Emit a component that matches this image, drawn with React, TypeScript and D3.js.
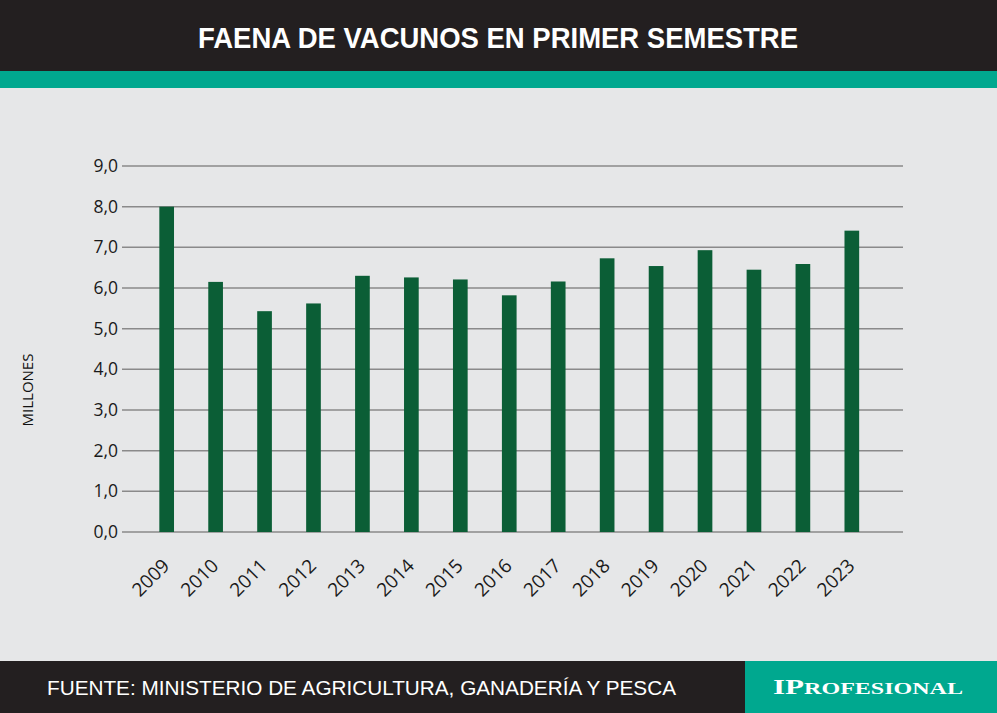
import React from "react";
import * as d3 from "d3";

const years = ["2009", "2010", "2011", "2012", "2013", "2014", "2015", "2016", "2017", "2018", "2019", "2020", "2021", "2022", "2023"];
const faena = [8.0, 6.15, 5.43, 5.62, 6.3, 6.26, 6.21, 5.82, 6.16, 6.73, 6.54, 6.93, 6.45, 6.59, 7.41];
const yTicks = [0, 1, 2, 3, 4, 5, 6, 7, 8, 9];

const W = 997;
const H = 713;

const App = () => {
  const x = d3
    .scaleBand<string>()
    .domain(years)
    .range([142.2, 876.3])
    .paddingInner(0.7)
    .paddingOuter(0.35);
  const y = d3.scaleLinear().domain([0, 9]).range([532, 166]);
  const fmt = (v: number) => v.toFixed(1).replace(".", ",");
  const font = "'Open Sans', 'Liberation Sans', Arial, sans-serif";

  return (
    <svg width={W} height={H} style={{ position: "absolute", left: 0, top: 0 }}>
      <rect x={0} y={0} width={W} height={H} fill="#e6e7e8" />
      {/* header */}
      <rect x={0} y={0} width={W} height={71} fill="#231f20" />
      <rect x={0} y={71} width={W} height={17} fill="#00a88f" />
      <text
        x={498}
        y={48}
        textAnchor="middle"
        fill="#fff"
        fontFamily="'Liberation Sans Narrow', 'Liberation Sans', Arial, sans-serif"
        fontWeight="bold"
        fontSize={30}
        textLength={600}
        lengthAdjust="spacingAndGlyphs"
      >
        FAENA DE VACUNOS EN PRIMER SEMESTRE
      </text>

      {/* grid + y labels */}
      {yTicks.map((t) => (
        <g key={t}>
          <line x1={122} x2={903} y1={y(t)} y2={y(t)} stroke="#8a8a8a" strokeWidth={1.5} />
          <text x={118} y={y(t) + 6} textAnchor="end" fontFamily={font} fontSize={17.5} fill="#1a1a1a">
            {fmt(t)}
          </text>
        </g>
      ))}
      <text
        transform="translate(33,390) rotate(-90)"
        textAnchor="middle"
        fontFamily={font}
        fontSize={15}
        fill="#111"
      >
        MILLONES
      </text>

      {/* bars */}
      {years.map((yr, i) => (
        <rect
          key={yr}
          x={x(yr)}
          y={y(faena[i])}
          width={x.bandwidth()}
          height={y(0) - y(faena[i])}
          fill="#0b5e36"
        />
      ))}

      {/* x labels */}
      {years.map((yr) => (
        <text
          key={yr}
          transform={`translate(${(x(yr) as number) + x.bandwidth() / 2 + 4},${567}) rotate(-45)`}
          textAnchor="end"
          fontFamily={font}
          fontSize={19}
          fill="#1a1a1a"
        >
          {yr}
        </text>
      ))}

      {/* footer */}
      <rect x={0} y={661} width={W} height={52} fill="#231f20" />
      <rect x={745} y={661} width={252} height={52} fill="#00a88f" />
      <text
        x={47}
        y={695}
        fill="#fff"
        fontFamily="'Liberation Sans Narrow', 'Liberation Sans', Arial, sans-serif"
        fontSize={19.5}
        textLength={629}
        lengthAdjust="spacingAndGlyphs"
      >
        FUENTE: MINISTERIO DE AGRICULTURA, GANADERÍA Y PESCA
      </text>
      <text
        x={773}
        y={694}
        fill="#fff"
        fontFamily="'Liberation Serif', 'DejaVu Serif', serif"
        fontWeight="bold"
        textLength={190}
        lengthAdjust="spacingAndGlyphs"
      >
        <tspan fontSize={22}>IP</tspan>
        <tspan fontSize={17}>ROFESIONAL</tspan>
      </text>
    </svg>
  );
};

export default App;
